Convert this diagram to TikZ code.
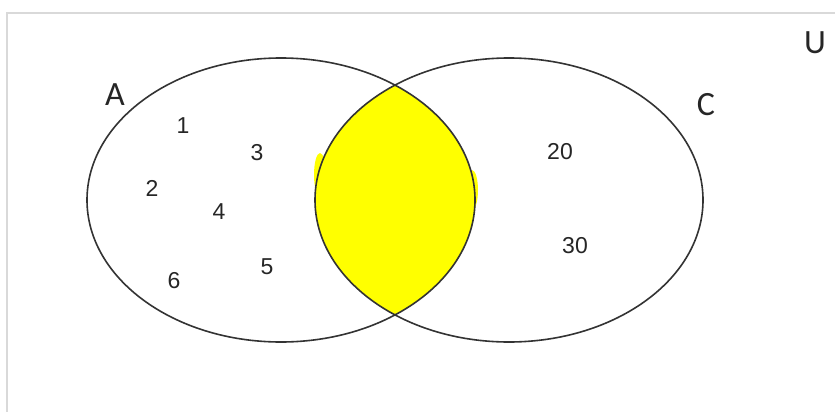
\documentclass[tikz,border=0pt]{standalone}
\usepackage{fontspec}
\setmainfont{Liberation Sans}
\newfontfamily\calib{Carlito}
\definecolor{hl}{RGB}{255,255,0}
\begin{document}
\begin{tikzpicture}[x=1pt,y=-1pt,
  num/.style={font=\fontsize{23}{23}\selectfont, inner sep=0pt, text=black!85},
  lbl/.style={font=\calib\fontsize{34}{34}\selectfont, inner sep=0pt, text=black!85},
  setline/.style={draw=black!80, line width=1.6pt},
  frameline/.style={draw=black!15, line width=1.5pt}]
\useasboundingbox (0,0) rectangle (835,412);
\fill[white] (0,0) rectangle (835,412);
\draw[frameline] (7,412) -- (7,13) -- (835,13);
% shaded intersection
\begin{scope}
  \clip (281,200) ellipse [x radius=194, y radius=142];
  \fill[hl] (509,200) ellipse [x radius=194, y radius=142];
\end{scope}
\fill[hl] (320,175) ellipse [x radius=6, y radius=22];
\fill[hl] (472,190) ellipse [x radius=6, y radius=20];
% sets
\draw[setline] (281,200) ellipse [x radius=194, y radius=142];
\draw[setline] (509,200) ellipse [x radius=194, y radius=142];
% labels
\node[lbl] (lA) at (115,95) {A};
\node[lbl] (lC) at (706,105) {C};
\node[lbl] (lU) at (815,43) {U};
\node[num] (n1) at (183,126) {1};
\node[num] (n3) at (257,153) {3};
\node[num] (n2) at (152,188) {2};
\node[num] (n4) at (219,212) {4};
\node[num] (n5) at (267,267) {5};
\node[num] (n6) at (174,281) {6};
\node[num] (n20) at (560,152) {20};
\node[num] (n30) at (575,246) {30};
\end{tikzpicture}
\end{document}
